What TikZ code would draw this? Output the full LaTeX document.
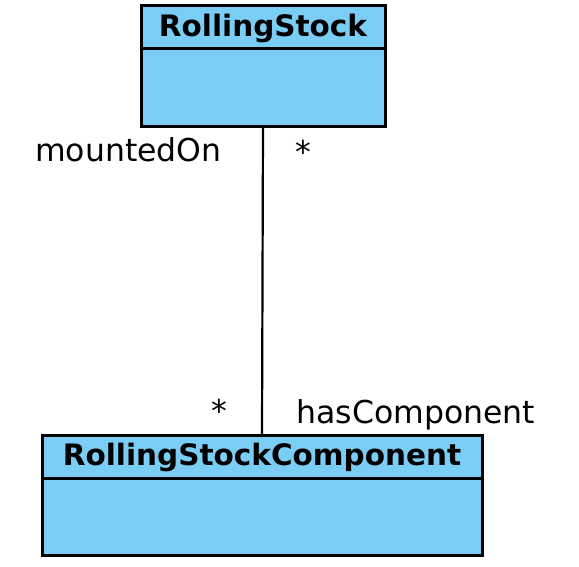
\documentclass[tikz,border=0pt]{standalone}
\usepackage{fontspec}
\setmainfont{DejaVu Sans}
\usetikzlibrary{positioning}
\definecolor{classblue}{RGB}{122,206,245}
\begin{document}
\begin{tikzpicture}[x=1pt,y=-1pt, line width=3pt,
  head/.style={draw,fill=classblue,inner sep=0pt,outer sep=0pt,minimum height=43pt,
    text height=21pt,text depth=3pt,font=\fontsize{29.5}{34}\selectfont\bfseries},
  body/.style={draw,fill=classblue,inner sep=0pt,outer sep=0pt},
  role/.style={inner sep=0pt,font=\fontsize{31.5}{36}\selectfont}]

  \useasboundingbox (0,0) rectangle (579,567);

  % RollingStock class
  \node[head,minimum width=244pt,anchor=north west] (rs) at (141,6) {RollingStock};
  \node[body,minimum width=244pt,minimum height=78pt,below=0pt of rs] (rsb) {};

  % RollingStockComponent class
  \node[head,minimum width=440pt,anchor=north west] (rsc) at (42,435) {RollingStockComponent};
  \node[body,minimum width=440pt,minimum height=77pt,below=0pt of rsc] (rscb) {};

  % association
  \draw[line width=2.2pt] (rsb.south) -- (rsc.north);

  % role names and multiplicities
  \node[role,anchor=base east] (mounted) at (223,162) {mountedOn};
  \node[role,anchor=base west] (multa) at (294,164) {*};
  \node[role,anchor=base east] (multb) at (229,422) {*};
  \node[role,anchor=base west] (hascomp) at (295,423) {hasComponent};

\end{tikzpicture}
\end{document}
